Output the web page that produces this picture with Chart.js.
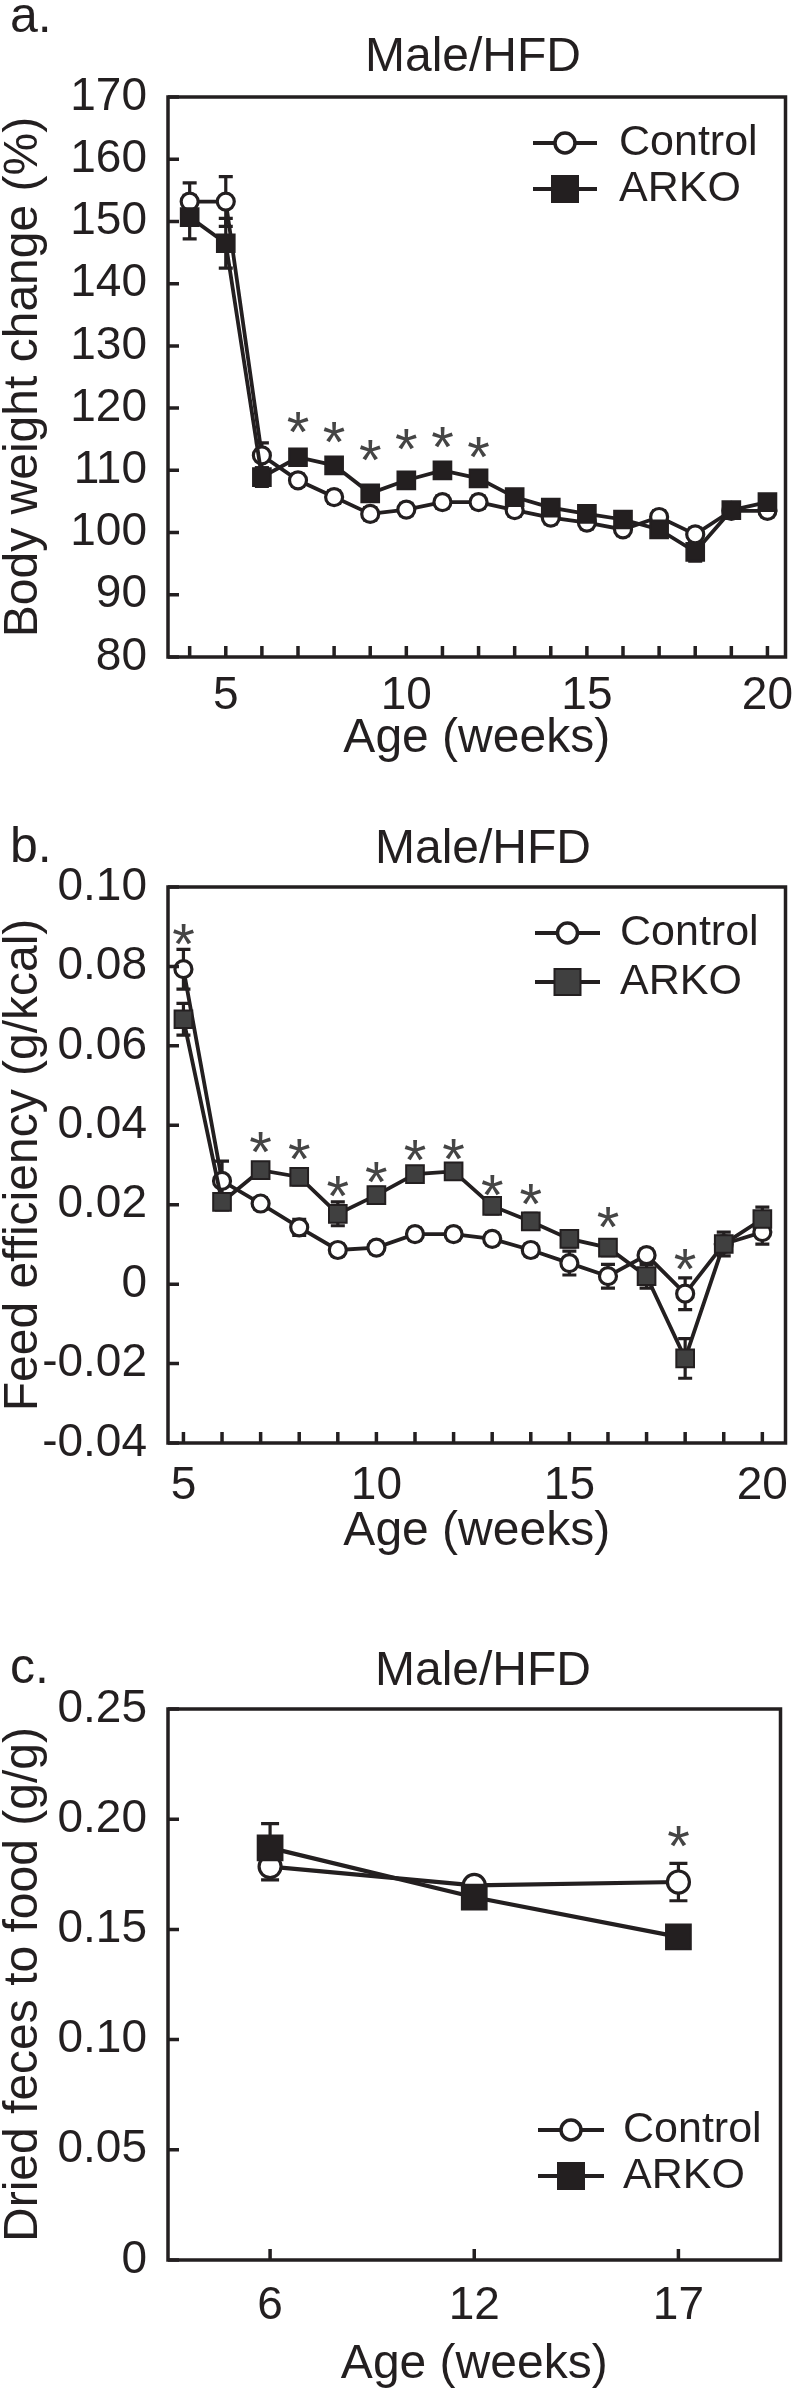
<!DOCTYPE html>
<html lang="en">
<head>
<meta charset="utf-8">
<title>Male/HFD</title>
<script src="https://cdn.jsdelivr.net/npm/chart.js@4.4.1/dist/chart.umd.min.js"></script>
<style>
  html, body { margin: 0; padding: 0; background: #fff; }
  body { position: relative; width: 800px; height: 2391px; overflow: hidden; }
  .panel { position: absolute; left: 0; width: 800px; }
</style>
</head>
<body>
<div class="panel" style="top:0px"><canvas id="weight-chart" width="800" height="790"></canvas></div>
<div class="panel" style="top:790px"><canvas id="efficiency-chart" width="800" height="822"></canvas></div>
<div class="panel" style="top:1612px"><canvas id="feces-chart" width="800" height="779"></canvas></div>
<script>
const ink = "#231f20";
const starInk = "#454545";
const FONT = "'Liberation Sans', Arial, Helvetica, sans-serif";

// a. body weight change (%)
const weeksA = [4, 5, 6, 7, 8, 9, 10, 11, 12, 13, 14, 15, 16, 17, 18, 19, 20];
const controlA = [153.2, 153.2, 112.4, 108.4, 105.7, 103.0, 103.7, 104.9, 104.9, 103.6, 102.4, 101.6, 100.5, 102.5, 99.7, 103.5, 103.5];
const controlErrA = [3, 4, 2, 1, 1, 1, 1, 1, 1, 1, 1, 1, 1, 1, 1, 1, 1];
const arkoA = [150.7, 146.5, 108.9, 112.1, 110.8, 106.3, 108.4, 110.0, 108.7, 105.7, 104.0, 103.0, 102.1, 100.5, 96.9, 103.6, 104.9];
const arkoErrA = [3.5, 4, 1.5, 1, 1, 1, 1, 1, 1, 1, 1, 1, 1, 1, 1.5, 1, 1];
const starWeeksA = [7, 8, 9, 10, 11, 12];
const starYA = [118.4, 116.8, 113.8, 115.7, 115.9, 114.3];
const yTicksA = [80, 90, 100, 110, 120, 130, 140, 150, 160, 170];
const yTickLabelsA = ["80", "90", "100", "110", "120", "130", "140", "150", "160", "170"];
const xLabelWeeksA = [5, 10, 15, 20];

// b. feed efficiency (g/kcal)
const weeksB = [5, 6, 7, 8, 9, 10, 11, 12, 13, 14, 15, 16, 17, 18, 19, 20];
const controlB = [0.0793, 0.026, 0.0203, 0.0143, 0.0086, 0.0092, 0.0126, 0.0126, 0.0114, 0.0086, 0.0053, 0.0020, 0.0073, -0.0024, 0.0101, 0.0131];
const controlErrB = [0.005, 0.005, 0.0015, 0.002, 0.0015, 0.0015, 0.0015, 0.0015, 0.0015, 0.0015, 0.003, 0.003, 0.0015, 0.004, 0.002, 0.003];
const arkoB = [0.0667, 0.0207, 0.0287, 0.027, 0.0177, 0.0224, 0.0277, 0.0284, 0.0197, 0.0158, 0.0114, 0.0092, 0.0020, -0.0187, 0.0101, 0.0164];
const arkoErrB = [0.004, 0.002, 0.0015, 0.002, 0.003, 0.002, 0.0015, 0.0015, 0.002, 0.002, 0.002, 0.002, 0.003, 0.005, 0.003, 0.003];
const starWeeksB = [5, 7, 8, 9, 10, 11, 12, 13, 14, 16, 18];
const starYB = [0.0892, 0.0367, 0.035, 0.0256, 0.0291, 0.0346, 0.035, 0.026, 0.0236, 0.0177, 0.0073];
const yTicksB = [-0.04, -0.02, 0, 0.02, 0.04, 0.06, 0.08, 0.1];
const yTickLabelsB = ["-0.04", "-0.02", "0", "0.02", "0.04", "0.06", "0.08", "0.10"];
const xLabelWeeksB = [5, 10, 15, 20];

// c. dried feces to food (g/g)
const weeksC = ["6", "12", "17"];
const controlC = [0.1785, 0.170, 0.1715];
const controlErrC = [0.006, 0.003, 0.0085];
const arkoC = [0.187, 0.1646, 0.1466];
const arkoErrC = [0.011, 0.003, 0.004];
const starWeeksC = ["17"];
const starYC = [0.194];
const yTicksC = [0, 0.05, 0.1, 0.15, 0.2, 0.25];
const yTickLabelsC = ["0", "0.05", "0.10", "0.15", "0.20", "0.25"];

function xy(xs, ys) {
  return xs.map((x, i) => ({ x: x, y: ys[i] }));
}

// error bars, frame, inward ticks, asterisks, legend and panel titles
const panelPlugin = {
  id: "panel",
  beforeDatasetsDraw(chart) {
    const o = chart.options.plugins.panel;
    const { ctx } = chart;
    const y = chart.scales.y;
    ctx.save();
    ctx.strokeStyle = ink;
    ctx.lineWidth = 3.2;
    chart.data.datasets.forEach((ds, i) => {
      const meta = chart.getDatasetMeta(i);
      meta.data.forEach((pt, j) => {
        const v = meta.controller.getParsed(j).y;
        const e = ds.errors[j];
        const top = y.getPixelForValue(v + e);
        const bot = y.getPixelForValue(v - e);
        ctx.beginPath();
        ctx.moveTo(pt.x, top);
        ctx.lineTo(pt.x, bot);
        ctx.moveTo(pt.x - o.cap, top);
        ctx.lineTo(pt.x + o.cap, top);
        ctx.moveTo(pt.x - o.cap, bot);
        ctx.lineTo(pt.x + o.cap, bot);
        ctx.stroke();
      });
    });
    ctx.restore();
  },
  afterDraw(chart) {
    const o = chart.options.plugins.panel;
    const { ctx, chartArea: a } = chart;
    const x = chart.scales.x;
    const y = chart.scales.y;
    ctx.save();

    // frame
    ctx.strokeStyle = ink;
    ctx.lineWidth = 3.5;
    ctx.strokeRect(a.left, a.top, a.right - a.left, a.bottom - a.top);

    // inward tick marks
    ctx.beginPath();
    x.ticks.forEach((t, i) => {
      const px = x.getPixelForTick(i);
      ctx.moveTo(px, a.bottom);
      ctx.lineTo(px, a.bottom - 11);
    });
    y.ticks.forEach((t, i) => {
      const py = y.getPixelForTick(i);
      ctx.moveTo(a.left, py);
      ctx.lineTo(a.left + 11, py);
    });
    ctx.stroke();

    // significance asterisks
    const fs = 58;
    ctx.fillStyle = starInk;
    ctx.font = fs + "px " + FONT;
    ctx.textAlign = "center";
    ctx.textBaseline = "alphabetic";
    o.stars.x.forEach((sx, i) => {
      const xv = typeof sx === "string" ? x.getLabels().indexOf(sx) : sx;
      const px = x.getPixelForValue(xv);
      const py = y.getPixelForValue(o.stars.y[i]);
      ctx.fillText("*", px, py + 0.58 * fs);
    });

    // legend
    const lg = o.legend;
    ctx.font = "43px " + FONT;
    ctx.textAlign = "left";
    ctx.textBaseline = "middle";
    chart.data.datasets.forEach((ds, k) => {
      const ry = lg.rows[k];
      ctx.strokeStyle = ink;
      ctx.lineWidth = 4;
      ctx.beginPath();
      ctx.moveTo(lg.x0, ry);
      ctx.lineTo(lg.x1, ry);
      ctx.stroke();
      const mx = (lg.x0 + lg.x1) / 2;
      if (ds.pointStyle === "circle") {
        ctx.fillStyle = "#fff";
        ctx.lineWidth = 3.5;
        ctx.beginPath();
        ctx.arc(mx, ry, 10, 0, Math.PI * 2);
        ctx.fill();
        ctx.stroke();
      } else {
        ctx.fillStyle = ds.pointBackgroundColor;
        ctx.lineWidth = 2;
        ctx.fillRect(mx - 13, ry - 13, 26, 26);
        ctx.strokeRect(mx - 13, ry - 13, 26, 26);
      }
      ctx.fillStyle = ink;
      ctx.fillText(ds.label, lg.tx, ry);
    });

    // panel letter and heading
    ctx.fillStyle = ink;
    ctx.font = "50px " + FONT;
    ctx.textAlign = "left";
    ctx.textBaseline = "alphabetic";
    ctx.fillText(o.letter, 10, o.letterY);
    ctx.font = "48px " + FONT;
    ctx.textAlign = "center";
    ctx.textBaseline = "middle";
    ctx.fillText("Male/HFD", o.headX, o.headY);
    ctx.restore();
  }
};

function controlSet(data, errors, r, lw) {
  return {
    label: "Control", data: data, errors: errors, order: 1,
    borderColor: ink, borderWidth: lw, pointStyle: "circle",
    pointRadius: r, pointBorderWidth: 3.2, pointBackgroundColor: "#fff", pointBorderColor: ink
  };
}

function arkoSet(data, errors, r, lw, fill) {
  return {
    label: "ARKO", data: data, errors: errors, order: 0,
    borderColor: ink, borderWidth: lw, pointStyle: "rect",
    pointRadius: r, pointBorderWidth: 2, pointBackgroundColor: fill, pointBorderColor: ink
  };
}

function yScale(min, max, ticks, labels, title) {
  return {
    type: "linear", min: min, max: max,
    afterBuildTicks: (s) => { s.ticks = ticks.map((v) => ({ value: v })); },
    afterFit: (s) => { s.width = 168; },
    grid: { display: false }, border: { display: false },
    ticks: {
      color: ink, padding: 13, font: { family: FONT, size: 46 },
      callback: (v, i) => labels[i]
    },
    title: { display: true, text: title, color: ink, padding: 0, font: { family: FONT, size: 48, lineHeight: 1 } }
  };
}

function xTitle(pad) {
  return { display: true, text: "Age (weeks)", color: ink, padding: { top: 0, bottom: pad }, font: { family: FONT, size: 48, lineHeight: 1 } };
}

function baseOptions(scales, panel) {
  return {
    responsive: false,
    animation: false,
    layout: { padding: { top: 97, right: 7, left: 0, bottom: 0 } },
    plugins: { legend: { display: false }, tooltip: { enabled: false }, title: { display: false }, panel: panel },
    scales: scales
  };
}

new Chart(document.getElementById("weight-chart"), {
  type: "line",
  data: {
    datasets: [
      controlSet(xy(weeksA, controlA), controlErrA, 8.5, 3.8),
      arkoSet(xy(weeksA, arkoA), arkoErrA, 12.5, 3.8, ink)
    ]
  },
  options: baseOptions({
    x: {
      type: "linear", min: 3.4, max: 20.5,
      afterBuildTicks: (s) => { s.ticks = weeksA.map((v) => ({ value: v })); },
      afterFit: (s) => { s.height = 133; s.paddingLeft = 0; s.paddingRight = 0; },
      grid: { display: false }, border: { display: false },
      ticks: {
        autoSkip: false, maxRotation: 0, color: ink, padding: 4, font: { family: FONT, size: 46 },
        callback: (v) => (xLabelWeeksA.includes(v) ? String(v) : "")
      },
      title: xTitle(27)
    },
    y: yScale(80, 170, yTicksA, yTickLabelsA, "Body weight change (%)")
  }, {
    cap: 7, letter: "a.", letterY: 32, headX: 473, headY: 58,
    stars: { x: starWeeksA, y: starYA },
    legend: { x0: 533, x1: 597, tx: 619, rows: [143, 189] }
  }),
  plugins: [panelPlugin]
});

new Chart(document.getElementById("efficiency-chart"), {
  type: "line",
  data: {
    datasets: [
      controlSet(xy(weeksB, controlB), controlErrB, 8.5, 3.8),
      arkoSet(xy(weeksB, arkoB), arkoErrB, 12.5, 3.8, "#404040")
    ]
  },
  options: baseOptions({
    x: {
      type: "linear", min: 4.6, max: 20.6,
      afterBuildTicks: (s) => { s.ticks = weeksB.map((v) => ({ value: v })); },
      afterFit: (s) => { s.height = 169; s.paddingLeft = 0; s.paddingRight = 0; },
      grid: { display: false }, border: { display: false },
      ticks: {
        autoSkip: false, maxRotation: 0, color: ink, padding: 8, font: { family: FONT, size: 46 },
        callback: (v) => (xLabelWeeksB.includes(v) ? String(v) : "")
      },
      title: xTitle(56)
    },
    y: yScale(-0.04, 0.1, yTicksB, yTickLabelsB, "Feed efficiency (g/kcal)")
  }, {
    cap: 7, letter: "b.", letterY: 72, headX: 483, headY: 60,
    stars: { x: starWeeksB, y: starYB },
    legend: { x0: 535, x1: 600, tx: 620, rows: [143, 192] }
  }),
  plugins: [panelPlugin]
});

new Chart(document.getElementById("feces-chart"), {
  type: "line",
  data: {
    labels: weeksC,
    datasets: [
      controlSet(controlC, controlErrC, 11, 4.2),
      arkoSet(arkoC, arkoErrC, 17.5, 4.2, ink)
    ]
  },
  options: baseOptions({
    x: {
      type: "category", offset: true,
      afterFit: (s) => { s.height = 131; s.paddingLeft = 0; s.paddingRight = 0; },
      grid: { display: false }, border: { display: false },
      ticks: { autoSkip: false, maxRotation: 0, color: ink, padding: 11, font: { family: FONT, size: 46 } },
      title: xTitle(2)
    },
    y: yScale(0, 0.25, yTicksC, yTickLabelsC, "Dried feces to food (g/g)")
  }, {
    cap: 9, letter: "c.", letterY: 71, headX: 483, headY: 60,
    stars: { x: starWeeksC, y: starYC },
    legend: { x0: 538, x1: 604, tx: 623, rows: [518, 564] }
  }),
  plugins: [panelPlugin]
});
</script>
</body>
</html>
